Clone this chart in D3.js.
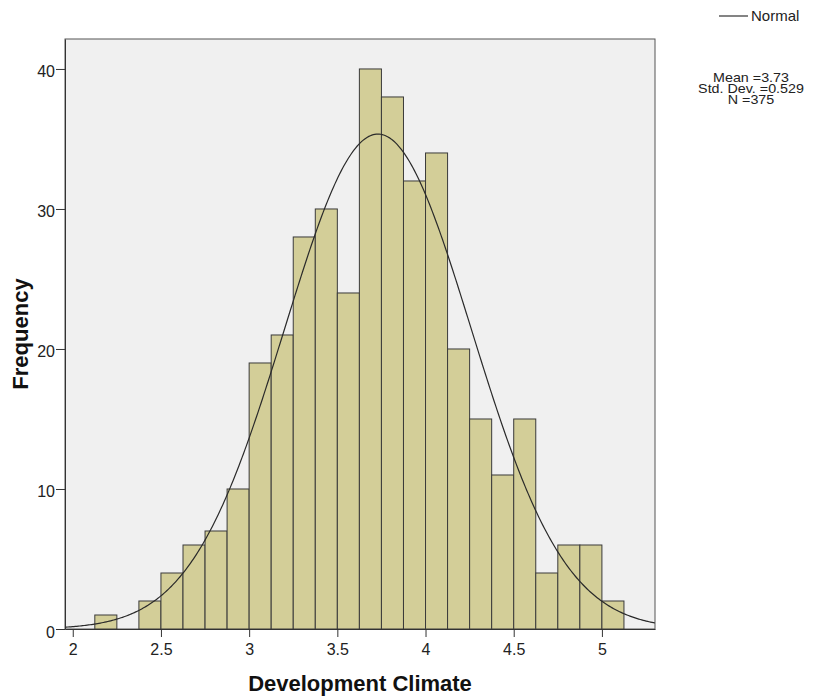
<!DOCTYPE html>
<html><head><meta charset="utf-8">
<script src="https://cdn.jsdelivr.net/npm/d3@7"></script>
<style>body{margin:0;background:#fff}svg{display:block}</style>
</head><body>
<script>
const binStarts = [2.125,2.375,2.5,2.625,2.75,2.875,3,3.125,3.25,3.375,3.5,3.625,3.75,3.875,4,4.125,4.25,4.375,4.5,4.625,4.75,4.875,5];
const counts    = [1,2,4,6,7,10,19,21,28,30,24,40,38,32,34,20,15,11,15,4,6,6,2];
const binWidth = 0.125;
const xTicks = [2,2.5,3,3.5,4,4.5,5];
const yTicks = [0,10,20,30,40];
const mean = 3.73, sd = 0.529, n = 375;
const statLines = ["Mean =3.73","Std. Dev. =0.529","N =375"];

const W = 819, H = 698;
const L = 65, R = 655, T = 39, B = 629;
const FONT = "Liberation Sans, Arial, sans-serif";
const svg = d3.select("body").append("svg").attr("width", W).attr("height", H);
const x = d3.scaleLinear().domain([1.956, 5.301]).range([L, R]);
const y = d3.scaleLinear().domain([0, 42.14]).range([B, T]);

svg.append("rect").attr("x", L).attr("y", T).attr("width", R-L).attr("height", B-T)
  .attr("fill", "#f0f0f0").attr("stroke", "#555").attr("stroke-width", 1);

svg.append("g").selectAll("rect").data(binStarts).join("rect")
  .attr("x", (d)=>x(d)).attr("width", (d)=>x(d+binWidth)-x(d))
  .attr("y", (d,i)=>y(counts[i])).attr("height", (d,i)=>y(0)-y(counts[i]))
  .attr("fill", "#d3ce98").attr("stroke", "#3a3a3a").attr("stroke-width", 1);

const pdf = v => n*binWidth*Math.exp(-0.5*((v-mean)/sd)**2)/(sd*Math.sqrt(2*Math.PI));
const xs = d3.range(0, 401).map(i => 1.956 + (5.301-1.956)*i/400);
svg.append("path").datum(xs)
  .attr("d", d3.line().x(d=>x(d)).y(d=>y(pdf(d))))
  .attr("fill", "none").attr("stroke", "#2a2a2a").attr("stroke-width", 1.2);

const xa = svg.append("g").attr("transform", `translate(0,${B})`)
  .call(d3.axisBottom(x).tickValues(xTicks).tickSize(8).tickSizeOuter(0).tickPadding(7).tickFormat(d3.format("")));
const ya = svg.append("g").attr("transform", `translate(${L},0)`)
  .call(d3.axisLeft(y).tickValues(yTicks).tickSize(9).tickSizeOuter(0).tickPadding(1).tickFormat(d3.format("")));
[xa, ya].forEach(a => {
  a.select(".domain").attr("stroke", "#333");
  a.selectAll(".tick line").attr("stroke", "#333");
  a.selectAll("text").attr("font-family", FONT).attr("font-size", 16).attr("fill", "#222");
});
ya.selectAll("text").attr("dy", "0.5em");

svg.append("text").attr("x", 360).attr("y", 691).attr("text-anchor", "middle")
  .attr("font-family", FONT).attr("font-weight", "bold").attr("font-size", 22)
  .attr("fill", "#111").text("Development Climate");
svg.append("text").attr("transform", "translate(28,334) rotate(-90)").attr("text-anchor", "middle")
  .attr("font-family", FONT).attr("font-weight", "bold").attr("font-size", 22)
  .attr("fill", "#111").text("Frequency");

svg.append("line").attr("x1", 719).attr("x2", 748).attr("y1", 16).attr("y2", 16).attr("stroke", "#333").attr("stroke-width", 1.2);
svg.append("text").attr("x", 751).attr("y", 21).attr("font-family", FONT)
  .attr("font-size", 15).attr("fill", "#222").text("Normal");
svg.append("g").attr("transform", "translate(751,0) scale(1.1,1)")
  .selectAll("text").data(statLines).join("text")
  .attr("x", 0).attr("y", (d,i)=>82+i*11).attr("text-anchor", "middle")
  .attr("font-family", FONT).attr("font-size", 13).attr("fill", "#222").text(d=>d);
</script>
</body></html>
